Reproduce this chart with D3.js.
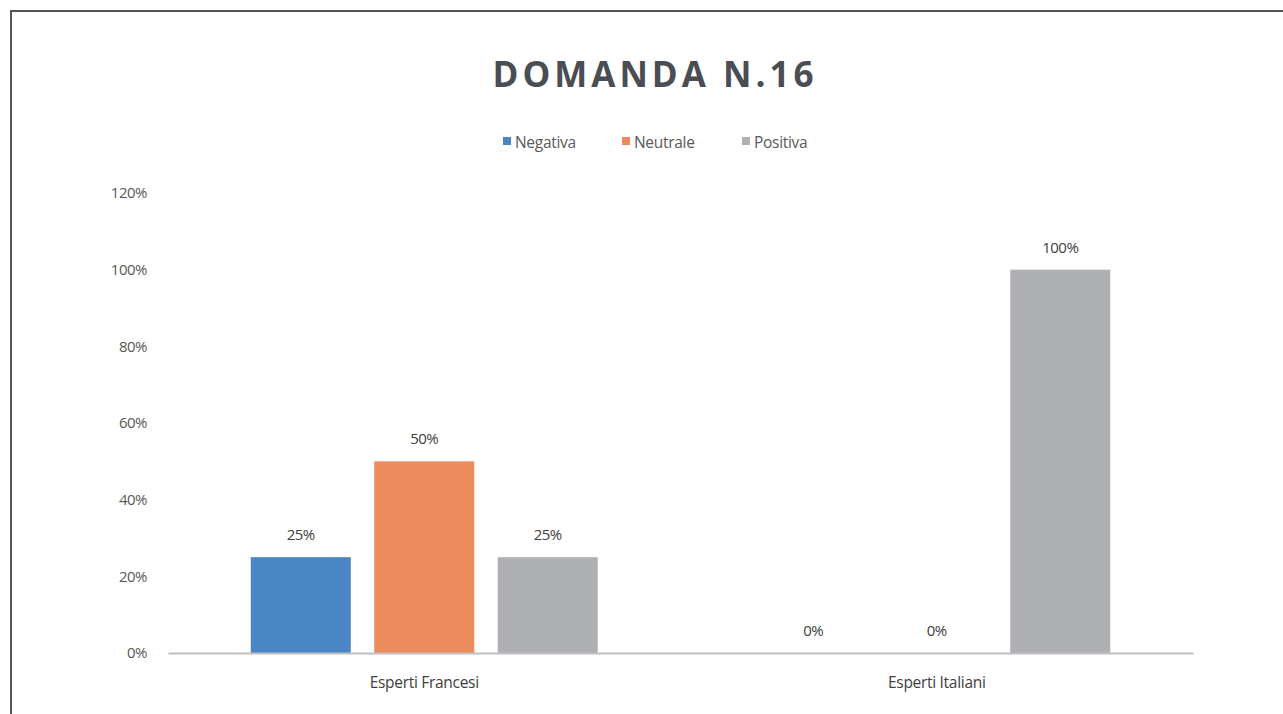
<!DOCTYPE html>
<html>
<head>
<meta charset="utf-8">
<script src="https://cdn.jsdelivr.net/npm/d3@7"></script>
<style>
  html, body { margin: 0; padding: 0; background: #ffffff; }
  svg { display: block; }
</style>
</head>
<body>
<div id="chart"></div>
<script>
// data
const categories = ["Esperti Francesi", "Esperti Italiani"];
const seriesNames = ["Negativa", "Neutrale", "Positiva"];
const negativa = [0.25, 0];
const neutrale = [0.50, 0];
const positiva = [0.25, 1.00];
const yTicks = [0, 0.2, 0.4, 0.6, 0.8, 1.0, 1.2];

const colors = ["#4a86c6", "#ec8c5c", "#aeb0b4"];
const seriesValues = [negativa, neutrale, positiva];

const width = 1283, height = 714;
const margin = {left: 168, right: 90, top: 193, bottom: 61};
const font = "'Open Sans', 'Noto Sans', sans-serif";

const svg = d3.select("#chart").append("svg")
  .attr("width", width).attr("height", height);

// frame
svg.append("path").attr("d", "M11,714 V11 H1283")
  .attr("fill", "none").attr("stroke", "#555").attr("stroke-width", 2);

const x0 = d3.scaleBand().domain(categories)
  .range([margin.left, width - margin.right]).padding(0);
const x1 = d3.scaleBand().domain(seriesNames)
  .range([0, 347]).paddingInner(0.19).paddingOuter(0);
const y = d3.scaleLinear().domain([0, 1.2])
  .range([height - margin.bottom, margin.top]);

const pct = d3.format(".0%");

// title
svg.append("text")
  .attr("x", 655).attr("y", 87)
  .attr("text-anchor", "middle")
  .attr("font-family", font)
  .attr("font-weight", "bold")
  .attr("font-size", 35)
  .attr("letter-spacing", 4)
  .attr("fill", "#4a4d52")
  .text("DOMANDA N.16");

// legend
const legendX = [503, 622, 742];
const legend = svg.append("g");
seriesNames.forEach((s, i) => {
  legend.append("rect").attr("x", legendX[i]).attr("y", 137)
    .attr("width", 8).attr("height", 8).attr("fill", colors[i]);
  legend.append("text").attr("x", legendX[i] + 12).attr("y", 148)
    .attr("font-family", font).attr("font-size", 15.5)
    .attr("letter-spacing", -0.3)
    .attr("fill", "#595959").text(s);
});

// y axis (labels only)
const yAxis = svg.append("g")
  .attr("transform", "translate(" + margin.left + ",0)")
  .call(d3.axisLeft(y).tickValues(yTicks).tickFormat(pct).tickSize(0).tickPadding(21));
yAxis.select(".domain").remove();
yAxis.selectAll("text")
  .attr("font-family", font).attr("font-size", 15)
  .attr("letter-spacing", -0.5)
  .attr("fill", "#595959");

// bars
const groups = svg.selectAll(".grp")
  .data(categories)
  .enter().append("g")
  .attr("class", "grp")
  .attr("transform", d => "translate(" + (x0(d) + (x0.bandwidth() - 347) / 2) + ",0)");

groups.selectAll("rect")
  .data((d, ci) => seriesNames.map((s, si) => ({s: s, v: seriesValues[si][ci], c: colors[si]})))
  .enter().append("rect")
  .attr("x", d => x1(d.s))
  .attr("y", d => y(d.v))
  .attr("width", x1.bandwidth())
  .attr("height", d => y(0) - y(d.v))
  .attr("fill", d => d.c);

groups.selectAll(".lbl")
  .data((d, ci) => seriesNames.map((s, si) => ({s: s, v: seriesValues[si][ci]})))
  .enter().append("text")
  .attr("class", "lbl")
  .attr("x", d => x1(d.s) + x1.bandwidth() / 2)
  .attr("y", d => y(d.v) - 17)
  .attr("text-anchor", "middle")
  .attr("font-family", font).attr("font-size", 15)
  .attr("letter-spacing", -0.5)
  .attr("fill", "#404040")
  .text(d => pct(d.v));

// x axis
const xAxis = svg.append("g")
  .attr("transform", "translate(0," + y(0) + ")")
  .call(d3.axisBottom(x0).tickSize(0).tickPadding(24));
xAxis.select(".domain").attr("stroke", "#bfbfbf").attr("stroke-width", 2);
xAxis.selectAll("text")
  .attr("font-family", font).attr("font-size", 15.5)
  .attr("letter-spacing", -0.3)
  .attr("fill", "#404040");
</script>
</body>
</html>
